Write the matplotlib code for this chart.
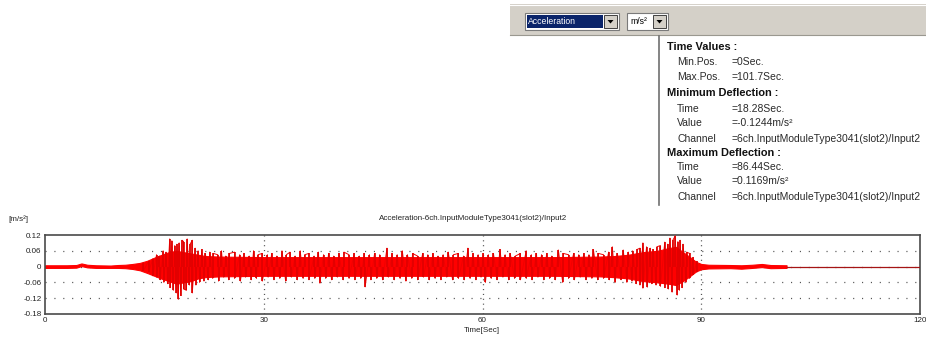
import matplotlib
matplotlib.use("Agg")
import matplotlib.pyplot as plt
from matplotlib.patches import Rectangle, Polygon
import numpy as np

plt.rcParams['font.family'] = ['Liberation Sans', 'DejaVu Sans']

# ---------------- data ----------------
# dense core envelope of the acceleration trace [m/s^2]
env_t = [0, 3, 4.3, 5.0, 5.8, 7, 9, 10, 11, 12,
         13, 14, 15, 16, 17, 18, 19, 20, 21, 22,
         24, 30, 40, 50, 60, 70, 76, 78, 80, 82,
         84, 85.5, 86.5, 87.5, 88.5, 89.3, 90, 91, 94, 95.5,
         97, 98.3, 99.5, 101.7]
env_hi = [.005, .005, .006, .012, .007, .005, .004, .006, .007, .01,
          .014, .022, .034, .045, .055, .06, .055, .05, .045, .04,
          .038, .036, .036, .036, .036, .036, .038, .04, .045, .055,
          .06, .07, .075, .055, .035, .018, .01, .007, .006, .005,
          .007, .01, .006, .005]
env_lo = [-.005, -.005, -.004, .002, -.003, -.005, -.005, -.005, -.006, -.009,
          -.014, -.024, -.035, -.046, -.055, -.065, -.06, -.055, -.045, -.04,
          -.037, -.035, -.035, -.035, -.035, -.035, -.037, -.04, -.045, -.055,
          -.06, -.065, -.07, -.055, -.035, -.018, -.01, -.007, -.006, -.008,
          -.005, -.002, -.006, -.005]

# positive peaks
up_t = [13.5, 14.2, 14.8, 15.3, 15.7, 16.2, 16.6, 17.1, 17.4, 17.8,
        18.1, 18.4, 18.8, 19.0, 19.5, 19.9, 20.2, 20.6, 21.0, 21.5,
        22.0, 22.6, 23.1, 23.7, 24.2, 24.8, 25.3, 26.0, 26.7, 27.3,
        28.0, 28.6, 29.2, 29.8, 30.5, 31.1, 31.8, 32.5, 33.1, 33.6,
        34.3, 35.0, 35.6, 36.2, 36.9, 37.5, 38.2, 38.9, 39.6, 40.3,
        41.0, 41.7, 42.4, 43.1, 43.8, 44.5, 45.2, 45.9, 46.9, 47.6,
        48.3, 49.0, 49.7, 50.4, 51.1, 51.8, 52.5, 53.2, 53.9, 54.6,
        55.3, 56.0, 56.7, 57.4, 58.0, 58.7, 59.4, 60.1, 60.8, 61.5,
        62.4, 63.1, 63.8, 64.5, 65.2, 66.0, 66.7, 67.4, 68.1, 68.8,
        69.5, 70.4, 71.1, 71.8, 72.5, 73.2, 73.9, 74.6, 75.2, 75.9,
        76.6, 77.3, 77.8, 78.5, 79.3, 80.0, 80.6, 81.2, 81.6, 82.0,
        82.5, 83.0, 83.4, 83.9, 84.4, 85.0, 85.4, 85.7, 86.1, 86.44,
        86.8, 87.1, 87.5, 88.0, 88.4, 88.9, 89.4]
up_v = [.015, .02, .03, .045, .04, .06, .055, .105, .098, .08,
        .085, .09, .10, .095, .105, .085, .10, .07, .06, .065,
        .05, .055, .05, .045, .06, .04, .05, .055, .045, .05,
        .04, .06, .045, .05, .045, .05, .04, .06, .045, .055,
        .04, .06, .045, .05, .04, .055, .045, .05, .04, .05,
        .055, .045, .05, .04, .05, .045, .05, .045, .07, .05,
        .045, .06, .045, .05, .04, .05, .045, .05, .04, .045,
        .055, .045, .05, .04, .07, .05, .045, .05, .045, .05,
        .065, .045, .05, .04, .05, .06, .045, .05, .045, .05,
        .04, .063, .05, .045, .05, .045, .05, .045, .065, .05,
        .045, .055, .075, .05, .063, .055, .06, .065, .07, .09,
        .075, .07, .065, .075, .08, .093, .085, .108, .10, .1169,
        .095, .10, .085, .055, .05, .035, .02]

# negative peaks
dn_t = [13.5, 14.2, 14.8, 15.3, 15.8, 16.3, 16.8, 17.2, 17.6, 18.0,
        18.28, 18.6, 19.0, 19.4, 19.8, 20.2, 20.7, 21.2, 21.8, 22.4,
        23.0, 23.8, 24.5, 25.2, 26.0, 26.8, 27.5, 28.3, 29.0, 29.8,
        30.6, 31.4, 32.2, 33.0, 33.8, 34.6, 35.4, 36.2, 37.0, 37.7,
        38.5, 39.3, 40.1, 40.9, 41.7, 42.5, 43.3, 43.9, 44.7, 45.5,
        46.3, 47.1, 47.9, 48.7, 49.5, 50.3, 51.1, 51.9, 52.7, 53.5,
        54.3, 55.1, 55.9, 56.7, 57.5, 58.3, 59.1, 59.8, 60.4, 61.2,
        62.0, 62.8, 63.6, 64.4, 65.2, 66.0, 66.8, 67.6, 68.4, 69.2,
        70.0, 71.0, 71.8, 72.6, 73.4, 74.2, 75.0, 75.8, 76.6, 77.4,
        78.2, 79.0, 79.8, 80.5, 81.1, 81.6, 82.0, 82.6, 83.2, 83.8,
        84.4, 85.0, 85.5, 86.0, 86.7, 87.0, 87.4, 87.9, 88.4, 88.9,
        89.4]
dn_v = [-.015, -.02, -.035, -.04, -.05, -.06, -.065, -.08, -.09, -.10,
        -.1244, -.11, -.085, -.09, -.07, -.10, -.07, -.06, -.055, -.05,
        -.045, -.055, -.04, -.05, -.045, -.055, -.04, -.05, -.045, -.055,
        -.04, -.05, -.045, -.055, -.04, -.05, -.045, -.05, -.045, -.063,
        -.045, -.05, -.04, -.05, -.045, -.05, -.045, -.077, -.05, -.045,
        -.05, -.04, -.05, -.045, -.055, -.045, -.05, -.04, -.05, -.045,
        -.05, -.04, -.05, -.045, -.05, -.045, -.05, -.04, -.06, -.045,
        -.05, -.04, -.05, -.045, -.05, -.045, -.05, -.04, -.05, -.045,
        -.05, -.06, -.045, -.05, -.04, -.05, -.045, -.05, -.045, -.05,
        -.06, -.05, -.06, -.055, -.065, -.07, -.082, -.078, -.065, -.07,
        -.075, -.08, -.085, -.097, -.108, -.09, -.08, -.06, -.045, -.03,
        -.02]

x_ticks = [0, 30, 60, 90, 120]
y_ticks = [0.12, 0.06, 0, -0.06, -0.12, -0.18]
y_tick_labels = ['0.12', '0.06', '0', '-0.06', '-0.12', '-0.18']
chart_title = 'Acceleration-6ch.InputModuleType3041(slot2)/Input2'
channel = '6ch.InputModuleType3041(slot2)/Input2'
x_end = 120

# ---------------- figure ----------------
W, H = 926, 338
fig = plt.figure(figsize=(W / 100, H / 100), dpi=100)
fig.patch.set_facecolor('white')

# overlay in pixel coordinates for the UI parts
ov = fig.add_axes([0, 0, 1, 1], zorder=0)
ov.set_xlim(0, W)
ov.set_ylim(H, 0)
ov.axis('off')
ov.patch.set_alpha(0)

# toolbar
ov.add_patch(Rectangle((510, 4), W - 510, 31, facecolor='#d4d0c8', edgecolor='none'))
ov.plot([510, W], [4.5, 4.5], color='#ffffff', lw=0.8)
ov.plot([510, W], [35, 35], color='#9a9890', lw=0.8)

def combo(x0, w, text, selected):
    ov.add_patch(Rectangle((x0, 13), w, 17, facecolor='white', edgecolor='#7a7a7a', lw=0.8))
    bx = x0 + w - 15
    if selected:
        ov.add_patch(Rectangle((x0 + 2, 15), bx - x0 - 3, 13, facecolor='#0a246a', edgecolor='none'))
        ov.text(x0 + 3, 21.8, text, color='white', fontsize=6.2, va='center', ha='left')
    else:
        ov.text(x0 + 3, 21.8, text, color='black', fontsize=6.2, va='center', ha='left')
    ov.add_patch(Rectangle((bx, 15), 13, 13, facecolor='#d4d0c8', edgecolor='#404040', lw=0.7))
    cx = bx + 6.5
    ov.add_patch(Polygon([[cx - 3, 20], [cx + 3, 20], [cx, 23.5]], closed=True,
                         facecolor='black', edgecolor='none'))

combo(525, 94, 'Acceleration', True)
combo(627, 41, 'm/s²', False)

# separator line of the info panel
ov.plot([659, 659], [36, 205], color='#707070', lw=1.2)

# info panel text derived from the data
i_min = int(np.argmin(dn_v))
i_max = int(np.argmax(up_v))
info = [
    ('b', 'Time Values :', None, 47.5),
    ('r', 'Min.Pos.', '=%gSec.' % env_t[0], 62),
    ('r', 'Max.Pos.', '=%gSec.' % env_t[-1], 77.5),
    ('b', 'Minimum Deflection :', None, 93.5),
    ('r', 'Time', '=%gSec.' % dn_t[i_min], 108.5),
    ('r', 'Value', '=%gm/s²' % dn_v[i_min], 123.5),
    ('r', 'Channel', '=' + channel, 138.5),
    ('b', 'Maximum Deflection :', None, 152.5),
    ('r', 'Time', '=%gSec.' % up_t[i_max], 166.5),
    ('r', 'Value', '=%gm/s²' % up_v[i_max], 180.5),
    ('r', 'Channel', '=' + channel, 197.5),
]
for kind, a, b, y in info:
    if kind == 'b':
        ov.text(667, y, a, fontsize=7.9, fontweight='bold', va='center', ha='left', color='#111111')
    else:
        ov.text(677, y, a, fontsize=7.5, va='center', ha='left', color='#2a2a2a')
        ov.text(731, y, b, fontsize=7.5, va='center', ha='left', color='#2a2a2a')

# chart texts
ov.text(8, 219, '[m/s²]', fontsize=5.8, va='center', ha='left', color='#222222')
ov.text(473.5, 218, chart_title, fontsize=5.8, va='center', ha='center', color='#222222')
ov.text(482, 331, 'Time[Sec]', fontsize=5.8, va='center', ha='center', color='#222222')

# ---------------- main plot ----------------
ax = fig.add_axes([45 / W, 24 / H, 875 / W, 79 / H], zorder=1)
ax.set_facecolor('white')
ax.set_xlim(0, x_end)
ax.set_ylim(-0.18, 0.12)

for yv in [0.06, 0, -0.06, -0.12]:
    ax.axhline(yv, color='#555555', lw=0.9, ls=(0, (0.9, 6.2)), zorder=1)
for xv in [30, 60, 90]:
    ax.axvline(xv, color='#555555', lw=0.9, ls=(0, (0.9, 3.0)), zorder=1)

# merged peak sequence drawn as the oscillating trace
pk_t = np.concatenate([up_t, dn_t])
pk_v = np.concatenate([up_v, dn_v])
order = np.argsort(pk_t, kind='stable')

ax.fill_between(env_t, env_lo, env_hi, color='#ff0000', lw=0.8, zorder=2)
ax.plot(pk_t[order], pk_v[order], color='#f00000', lw=0.7, zorder=3)
ax.vlines(up_t, 0, up_v, color='#e00000', lw=1.2, zorder=3)
ax.vlines(dn_t, dn_v, 0, color='#e00000', lw=1.2, zorder=3)
ax.plot([env_t[-1], x_end], [0, 0], color='#a51515', lw=0.9, zorder=3)

ax.set_xticks(x_ticks)
ax.set_xticklabels([str(t) for t in x_ticks])
ax.set_yticks(y_ticks)
ax.set_yticklabels(y_tick_labels)
ax.tick_params(length=0, labelsize=5.8, colors='#222222', pad=2.5)
for s in ax.spines.values():
    s.set_color('#4a4a4a')
    s.set_linewidth(1.2)

fig.savefig('out.png', dpi=100)
